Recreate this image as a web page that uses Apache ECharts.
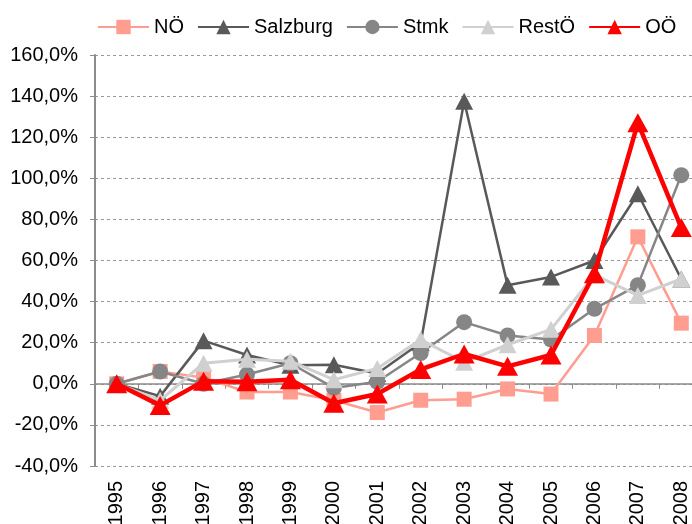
<!DOCTYPE html>
<html>
<head>
<meta charset="utf-8">
<script src="https://cdn.jsdelivr.net/npm/echarts@6/dist/echarts.min.js"></script>
<style>
html,body{margin:0;padding:0;background:#fff;}
#c{width:692px;height:524px;}
</style>
</head>
<body>
<div id="c"></div>
<script>
var years = ['1995','1996','1997','1998','1999','2000','2001','2002','2003','2004','2005','2006','2007','2008'];
var noe      = [0, 6, 3, -4, -4, -8, -14, -8, -7.5, -2.5, -5, 23.5, 71.5, 29.5];
var salzburg = [0, -6, 21, 14, 9, 9.3, 5, 20, 137.5, 48, 52, 60, 92.5, 51];
var stmk     = [0, 6, 0, 4.5, 10, -2, 1, 15, 30, 23.5, 21.5, 36.5, 48, 101.5];
var restoe   = [0, -8, 10, 12, 11, 2, 7.5, 21.5, 10.5, 19, 26.5, 53, 43, 51];
var ooe      = [0, -10.5, 1.3, 1, 2, -9.5, -5, 7, 14.5, 8.5, 14, 53.5, 127, 76];
var yTicks = [-40, 160, 20];

var font = 'Liberation Sans, Arial, sans-serif';
function mk(name, data, color, symbol, size, lw, z) {
  return {
    name: name, type: 'line', data: data, xAxisIndex: 0,
    symbol: symbol, symbolSize: size, showSymbol: true,
    lineStyle: {color: color, width: lw},
    itemStyle: {color: color, borderWidth: 0},
    z: z, animation: false
  };
}
var chart = echarts.init(document.getElementById('c'), null, {renderer: 'canvas'});
chart.setOption({
  animation: false,
  backgroundColor: '#fff',
  legend: {
    left: 97, top: 17, padding: 0, itemWidth: 51, itemHeight: 18, itemGap: 13,
    textStyle: {fontFamily: font, fontSize: 20, color: '#000'},
    data: ['NÖ','Salzburg','Stmk','RestÖ','OÖ']
  },
  grid: {left: 95, top: 55, width: 608, height: 411, containLabel: false, outerBoundsMode: 'none'},
  xAxis: [
    {
      type: 'category', data: years, position: 'bottom',
      axisLine: {show: false, onZero: false}, axisTick: {show: false},
      axisLabel: {rotate: 90, fontFamily: font, fontSize: 20, color: '#000', margin: 15},
      splitLine: {show: false}
    },
    {
      type: 'category', data: years, position: 'bottom',
      axisLine: {show: true, onZero: true, lineStyle: {color: '#8c8c8c', width: 1.5}},
      axisTick: {show: true, inside: false, length: 5, lineStyle: {color: '#8c8c8c', width: 1}},
      axisLabel: {show: false}, splitLine: {show: false}
    }
  ],
  yAxis: {
    type: 'value', min: yTicks[0], max: yTicks[1], interval: yTicks[2],
    axisLine: {show: true, lineStyle: {color: '#8c8c8c', width: 2}},
    axisTick: {show: true, length: 5, lineStyle: {color: '#8c8c8c'}},
    axisLabel: {
      fontFamily: font, fontSize: 20, color: '#000', margin: 17,
      formatter: function (v) { return v.toFixed(1).replace('.', ',') + '%'; }
    },
    splitLine: {show: true, lineStyle: {color: '#999', width: 1, type: [3, 3]}}
  },
  series: [
    mk('NÖ', noe, '#ff9d90', 'rect', 15, 2.5, 2),
    mk('Salzburg', salzburg, '#595959', 'triangle', [18, 17], 2.5, 3),
    mk('Stmk', stmk, '#868686', 'circle', 16, 2.5, 4),
    mk('RestÖ', restoe, '#d0d0d0', 'triangle', [18, 17], 3, 5),
    mk('OÖ', ooe, '#ff0000', 'triangle', [21, 19], 4.5, 6)
  ]
});
</script>
</body>
</html>
